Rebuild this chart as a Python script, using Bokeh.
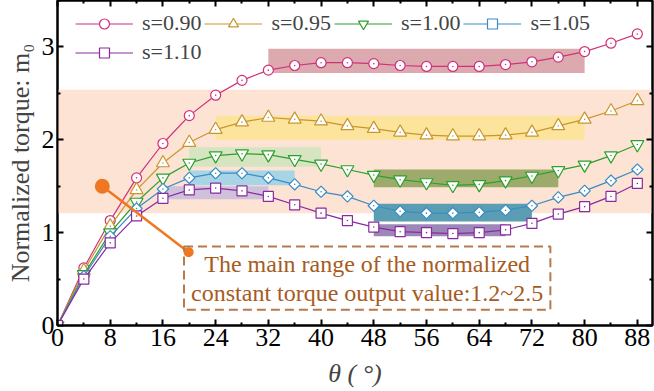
import numpy as np
from bokeh.plotting import figure
from bokeh.models import Range1d, FixedTicker, LinearAxis, Legend, LegendItem
from bokeh.core.properties import value
from bokeh.embed import file_html
from bokeh.resources import INLINE

# ---------------- data ----------------
theta = [0, 4, 8, 12, 16, 20, 24, 28, 32, 36, 40, 44, 48, 52, 56, 60, 64, 68, 72, 76, 80, 84, 88]
s090 = [0, 0.62, 1.13, 1.59, 1.96, 2.26, 2.48, 2.64, 2.75, 2.80, 2.83, 2.83, 2.82, 2.80, 2.79, 2.79, 2.79, 2.81, 2.84, 2.89, 2.95, 3.04, 3.14]
s095 = [0, 0.59, 1.07, 1.46, 1.75, 1.97, 2.11, 2.19, 2.24, 2.22, 2.20, 2.15, 2.12, 2.08, 2.05, 2.04, 2.04, 2.05, 2.08, 2.15, 2.22, 2.31, 2.42]
s100 = [0, 0.55, 1.00, 1.33, 1.59, 1.75, 1.83, 1.85, 1.84, 1.79, 1.74, 1.68, 1.62, 1.57, 1.54, 1.51, 1.52, 1.56, 1.61, 1.67, 1.73, 1.83, 1.95]
s105 = [0, 0.53, 0.96, 1.26, 1.47, 1.59, 1.64, 1.64, 1.59, 1.52, 1.44, 1.39, 1.29, 1.23, 1.21, 1.21, 1.22, 1.24, 1.29, 1.38, 1.45, 1.56, 1.68]
s110 = [0, 0.50, 0.89, 1.18, 1.37, 1.46, 1.48, 1.45, 1.39, 1.30, 1.21, 1.13, 1.06, 1.01, 1.00, 0.99, 1.00, 1.03, 1.10, 1.20, 1.28, 1.39, 1.53]
series_labels = ["s=0.90", "s=0.95", "s=1.00", "s=1.05", "s=1.10"]

# highlighted bands: x0, x1, y0, y1
band_x0 = [0, 32, 24, 20, 48, 20, 48, 16, 48]
band_x1 = [91, 80, 80, 40, 76, 36, 72, 32, 68]
band_y0 = [1.21, 2.72, 2.00, 1.71, 1.49, 1.51, 1.12, 1.36, 0.96]
band_y1 = [2.54, 2.98, 2.26, 1.92, 1.68, 1.67, 1.31, 1.50, 1.09]
band_colors = ["#fde3d3", "#dcaaae", "#fde49c", "#d6e4c2", "#9caa6c", "#a8d5e5", "#5b9eb3", "#cfc0dc", "#9c88b8"]

# annotation
pointer_x = [6.8, 19.9]
pointer_y = [1.50, 0.79]
box_x = [19.2, 74.8]
box_y = [0.17, 0.85]
note_lines = ["The main range of the normalized", "constant torque output value:1.2~2.5"]
note_x = [47, 47]
note_y = [0.66, 0.35]

x_major = [0, 8, 16, 24, 32, 40, 48, 56, 64, 72, 80, 88]
x_minor = [4, 12, 20, 28, 36, 44, 52, 60, 68, 76, 84]
y_major = [0, 1, 2, 3]
y_minor = [0.5, 1.5, 2.5, 3.5]

SERIF = "Liberation Serif"

p = figure(width=654, height=390, output_backend="svg", toolbar_location=None,
           x_range=Range1d(0, 90.3), y_range=Range1d(0, 3.5),
           min_border_left=57, min_border_right=2, min_border_top=0, min_border_bottom=65)
p.grid.visible = False
p.outline_line_color = "black"
p.outline_line_width = 2
p.background_fill_color = "white"
p.border_fill_color = "white"

# bands
p.quad(left=band_x0, right=band_x1, bottom=band_y0, top=band_y1,
       fill_color=band_colors, line_color=None)

colors = ["#d0307a", "#c8962e", "#2ca02c", "#3a8cc4", "#8a2a9e"]
markers = ["circle", "triangle", "inverted_triangle", "square", "square"]
sizes = [10, 13, 13, 8, 10]
angles = [0, 0, 0, np.pi / 4, 0]
data = [s090, s095, s100, s105, s110]

items = []
for lab, ys, c, m, sz, ang in zip(series_labels, data, colors, markers, sizes, angles):
    rl = p.line(theta, ys, line_color=c, line_width=1.2)
    rs = p.scatter(theta, ys, marker=m, size=sz, angle=ang, fill_color="white",
                   line_color=c, line_width=1.2)
    p.scatter(theta, ys, marker="circle", size=1.6, fill_color=c, line_color=None)
    items.append(LegendItem(label=lab, renderers=[rl, rs]))

# annotation pointer
p.line(pointer_x, pointer_y, line_color="#f07722", line_width=2.5)
p.scatter(pointer_x[:1], pointer_y[:1], size=15, fill_color="#f07722", line_color=None)
p.scatter(pointer_x[1:], pointer_y[1:], size=10, fill_color="#f07722", line_color=None)
p.quad(left=[box_x[0]], right=[box_x[1]], bottom=[box_y[0]], top=[box_y[1]],
       fill_color=None, line_color="#b97a4a", line_width=2, line_dash="9 5")
p.text(note_x, note_y, text=note_lines, text_align="center", text_baseline="middle",
       text_font=value(SERIF), text_font_size="24px", text_color="#a65b22")

# axes styling
def style_axis(ax, ticker, show_labels, ticks=None):
    ax.ticker = ticker
    ax.axis_line_width = 2
    ax.major_tick_in = 6
    ax.major_tick_out = 0
    ax.minor_tick_in = 3
    ax.minor_tick_out = 0
    ax.major_tick_line_width = 2
    ax.minor_tick_line_width = 2
    ax.major_label_text_font = SERIF
    ax.major_label_text_color = "black"
    if show_labels:
        ax.major_label_text_font_size = "26px"
        ax.major_label_standoff = 3
    else:
        ax.major_label_overrides = {t: "" for t in ticks}
        ax.major_label_text_font_size = "1px"
        ax.major_label_standoff = 0

xt = FixedTicker(ticks=x_major, minor_ticks=x_minor)
yt = FixedTicker(ticks=y_major, minor_ticks=y_minor)
style_axis(p.xaxis[0], xt, True)
style_axis(p.yaxis[0], yt, True)
p.xaxis[0].axis_label = "θ ( °)"
p.xaxis[0].axis_label_text_font = SERIF
p.xaxis[0].axis_label_text_font_size = "26px"
p.xaxis[0].axis_label_text_font_style = "italic"
p.xaxis[0].axis_label_standoff = 10
p.yaxis[0].axis_label = "Normalized torque: m₀"
p.yaxis[0].axis_label_text_font = SERIF
p.yaxis[0].axis_label_text_font_size = "26px"
p.yaxis[0].axis_label_text_font_style = "normal"
p.yaxis[0].axis_label_standoff = 4

top_ax = LinearAxis()
style_axis(top_ax, FixedTicker(ticks=x_major, minor_ticks=x_minor), False, x_major)
p.add_layout(top_ax, "above")
right_ax = LinearAxis()
style_axis(right_ax, FixedTicker(ticks=y_major, minor_ticks=y_minor), False, y_major)
p.add_layout(right_ax, "right")

legend = Legend(items=items, ncols=4, orientation="horizontal", location=(18, 260),
                glyph_width=58, glyph_height=25, label_height=25, label_standoff=9,
                spacing=3, padding=0, margin=0, border_line_color=None,
                background_fill_alpha=0, label_text_font=SERIF, label_text_font_size="22px")
p.add_layout(legend, "center")

open("out.html", "w").write(file_html(p, INLINE))
